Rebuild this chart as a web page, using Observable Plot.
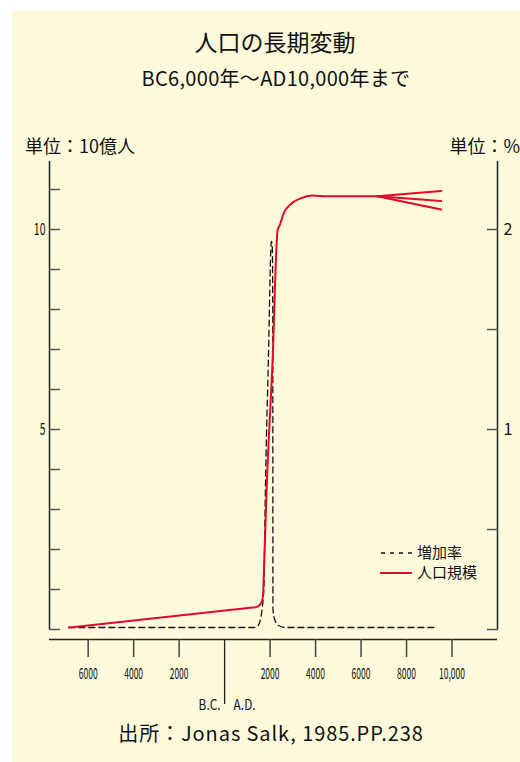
<!DOCTYPE html>
<html><head><meta charset="utf-8">
<script src="https://cdn.jsdelivr.net/npm/d3@7"></script>
<script src="https://cdn.jsdelivr.net/npm/@observablehq/plot@0.6"></script>
<style>
body{margin:0;background:#fff;font-family:"Noto Sans CJK JP","Noto Sans",sans-serif;color:#111;}
#page{position:relative;width:520px;height:762px;overflow:hidden;}
#bg{position:absolute;left:12px;top:10px;width:508px;height:752px;background:#fdfadc;}
.t{position:absolute;white-space:nowrap;line-height:1;}
.c{transform:translate(-50%,-50%);}
#chart{position:absolute;left:0;top:150px;}
#legend{position:absolute;left:376px;top:540px;}
</style></head><body>
<div id="page">
<div id="bg"></div>
<div class="t c" style="left:275px;top:41px;font-size:23px;">人口の長期変動</div>
<div class="t c" style="left:276px;top:78px;font-size:20px;letter-spacing:0.3px;">BC6,000年～AD10,000年まで</div>
<div class="t" style="left:25px;top:136px;font-size:18px;">単位：10億人</div>
<div class="t" style="right:0px;top:136px;font-size:18px;">単位：%</div>
<div id="chart"></div>
<svg id="legend" width="130" height="46"></svg>
<div class="t c" style="left:271px;top:733px;font-size:20px;letter-spacing:0.9px;">出所：Jonas Salk, 1985.PP.238</div>
</div>
<script>
// ---- data ----
const popYears  = [-6850, 1230, 1400, 1560, 1650, 1700, 1720, 1846, 2110, 2330, 2420, 2607, 2901, 3341, 3855, 4514, 6712];
const popValues = [0.05, 0.55, 0.56, 0.62, 0.72, 0.95, 1.3, 3.48, 6.73, 9.98, 10.1, 10.42, 10.63, 10.78, 10.85, 10.83, 10.83];
const projYears = [6712, 9525];
const projHigh  = [10.83, 10.96];
const projMid   = [10.83, 10.71];
const projLow   = [10.83, 10.5];
const rateYears  = [-6850, 1300, 1480, 1582, 1657, 1727, 1790, 1925, 2052, 2066, 2100, 2120, 2123, 2126, 2200, 2374, 2681, 9363];
const rateValues = [0.01, 0.01, 0.02, 0.054, 0.11, 0.21, 0.68, 1.345, 1.935, 1.94, 1.9, 1.5, 0.5, 0.1, 0.05, 0.02, 0.01, 0.01];
const yearTicks = [-6000, -4000, -2000, 2000, 4000, 6000, 8000, 10000];
const yearTickLabels = ["6000", "4000", "2000", "2000", "4000", "6000", "8000", "10,000"];
const eraBoundary = 0;
const eraLabels = ["B.C.", "A.D."];
const popTicks = [0, 1, 2, 3, 4, 5, 6, 7, 8, 9, 10, 11];
const popLabelTicks = [5, 10];
const rateTicks = [0, 0.5, 1, 1.5, 2];
const rateLabelTicks = [1, 2];
const seriesNames = ["増加率", "人口規模"];
const xDomain = [-7700, 12000];
const popMax = 11.7;
const rateToPop = 5; // 1% on the right axis = 5 (10億人) on the left axis

const RED = "#e3072b";
const popData = popYears.map((x, i) => ({x, y: popValues[i]}));
const projData = [["high", projHigh], ["mid", projMid], ["low", projLow]]
  .flatMap(([z, vals]) => projYears.map((x, i) => ({x, y: vals[i], z})));
const rateData = rateYears.map((x, i) => ({x, y: rateValues[i] * rateToPop}));

const chart = Plot.plot({
  width: 520, height: 565,
  marginLeft: 49, marginRight: 23, marginTop: 11, marginBottom: 86,
  style: {background: "transparent", overflow: "visible", fontFamily: "'Noto Sans CJK JP', sans-serif", color: "#111"},
  x: {domain: xDomain, label: null},
  y: {domain: [0, popMax], label: null},
  marks: [
    Plot.ruleX(xDomain, {stroke: "#222", strokeWidth: 1.5}),
    Plot.ruleY([0], {dy: 10, stroke: "#222", strokeWidth: 1.5}),
    // inward ticks
    Plot.axisY({anchor: "left", label: null, ticks: popTicks, tickSize: 11, dx: 11, tickFormat: () => "", stroke: "#555", strokeWidth: 1.5}),
    Plot.axisY({anchor: "right", label: null, ticks: rateTicks.map(v => v * rateToPop), tickSize: 11, dx: -11, tickFormat: () => "", stroke: "#555", strokeWidth: 1.5}),
    // labels
    Plot.axisY({anchor: "left", label: null, ticks: popLabelTicks, tickSize: 0, tickPadding: 4, fontSize: 17, className: "cond-y", tickFormat: d => String(d)}),
    Plot.axisY({anchor: "right", label: null, ticks: rateLabelTicks.map(v => v * rateToPop), tickSize: 0, tickPadding: 6, fontSize: 16, tickFormat: d => String(d / rateToPop)}),
    Plot.axisX({label: null, ticks: yearTicks, tickSize: 18, dy: 10, tickFormat: () => "", stroke: "#444", strokeWidth: 1.5}),
    Plot.axisX({label: null, ticks: [eraBoundary], tickSize: 65, dy: 10, tickFormat: () => "", stroke: "#222", strokeWidth: 1.3}),
    Plot.axisX({label: null, ticks: yearTicks, tickSize: 0, tickPadding: 38, fontSize: 15.5, className: "cond-x",
      tickFormat: d => yearTickLabels[yearTicks.indexOf(d)]}),
    Plot.text([eraLabels[0]], {x: () => eraBoundary, frameAnchor: "bottom", text: d => d, textAnchor: "end", dx: -4, dy: 76, fontSize: 14.5, lineAnchor: "middle", className: "cond-e", fill: "#111"}),
    Plot.text([eraLabels[1]], {x: () => eraBoundary, frameAnchor: "bottom", text: d => d, textAnchor: "start", dx: 9, dy: 76, fontSize: 14.5, lineAnchor: "middle", className: "cond-e", fill: "#111"}),
    // data
    Plot.line(rateData, {x: "x", y: "y", curve: "monotone-x", stroke: "#111", strokeWidth: 1.3, strokeDasharray: "6,4"}),
    Plot.line(popData, {x: "x", y: "y", curve: "monotone-x", stroke: RED, strokeWidth: 2}),
    Plot.line(projData, {x: "x", y: "y", z: "z", stroke: RED, strokeWidth: 2})
  ]
});
document.getElementById("chart").appendChild(chart);

function condense(sel, s) {
  d3.select(chart).selectAll(sel).each(function () {
    const t = this.getAttribute("transform") || "";
    this.setAttribute("transform", t + ` scale(${s},1)`);
  });
}
condense(".cond-x text", 0.55);
condense(".cond-y text", 0.62);
condense(".cond-e text", 0.82);

// legend
const lg = d3.select("#legend");
lg.append("line").attr("x1", 5).attr("x2", 36).attr("y1", 13).attr("y2", 13)
  .attr("stroke", "#111").attr("stroke-width", 1.3).attr("stroke-dasharray", "4,5");
lg.append("line").attr("x1", 4).attr("x2", 36).attr("y1", 33).attr("y2", 33)
  .attr("stroke", RED).attr("stroke-width", 2);
lg.selectAll("text").data(seriesNames).join("text")
  .attr("x", 41).attr("y", (d, i) => 13 + i * 20).attr("dy", "0.36em")
  .attr("font-size", 15).attr("font-family", "'Noto Sans CJK JP', sans-serif").attr("fill", "#111")
  .text(d => d);
</script>
</body></html>
